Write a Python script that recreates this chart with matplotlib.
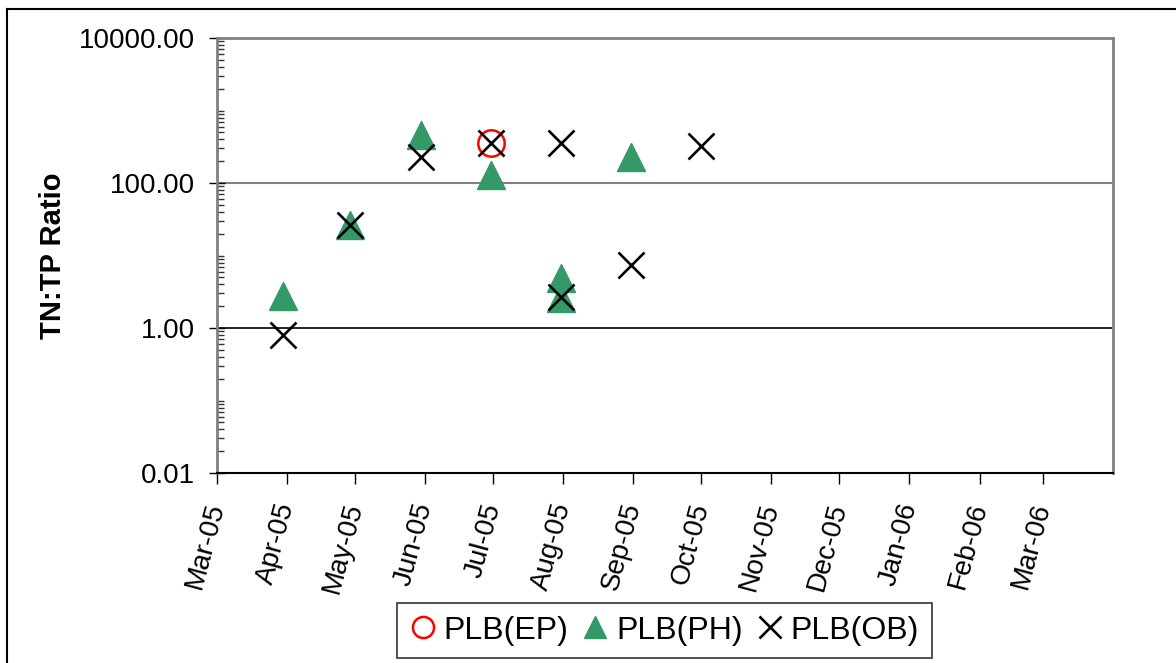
import datetime as dt
import matplotlib
matplotlib.use("Agg")
import matplotlib.pyplot as plt
import matplotlib.dates as mdates
from matplotlib.ticker import LogLocator, FixedLocator, FixedFormatter, NullFormatter
from matplotlib.lines import Line2D

plt.rcParams['font.family'] = ['Liberation Sans', 'DejaVu Sans']

# sample dates and TN:TP ratios
ep_dates = [dt.date(2005, 6, 30)]
ep_ratio = [354]

ph_dates = [dt.date(2005, 3, 30), dt.date(2005, 4, 29), dt.date(2005, 5, 30),
            dt.date(2005, 6, 30), dt.date(2005, 7, 31), dt.date(2005, 7, 31),
            dt.date(2005, 8, 31)]
ph_ratio = [2.74, 26.2, 454, 127, 4.9, 2.57, 230]

ob_dates = [dt.date(2005, 3, 30), dt.date(2005, 4, 29), dt.date(2005, 5, 30),
            dt.date(2005, 6, 30), dt.date(2005, 7, 31), dt.date(2005, 7, 31),
            dt.date(2005, 8, 31), dt.date(2005, 10, 1)]
ob_ratio = [0.79, 26.5, 229, 351, 351, 2.69, 7.39, 319]

month_ticks = [dt.date(2005, m, 1) for m in range(3, 13)] + [dt.date(2006, m, 1) for m in range(1, 4)]
y_ticks = [0.01, 1, 100, 10000]
y_labels = ['0.01', '1.00', '100.00', '10000.00']

fig = plt.figure(figsize=(11.76, 6.63), dpi=100)
ax = fig.add_axes([217 / 1176, 1 - 473 / 663, (1113 - 217) / 1176, (473 - 38) / 663])

# gridlines (Excel style: one grey, one black)
ax.axhline(100, color='#808080', lw=1.5, zorder=1)
ax.axhline(1, color='black', lw=1.2, zorder=1)

ax.plot(ep_dates, ep_ratio, ls='none', marker='o', ms=19, mfc='none',
        mec='#ff0000', mew=1.8, label='PLB(EP)', zorder=3)
ax.plot(ph_dates, ph_ratio, ls='none', marker='^', ms=20, color='#339966',
        mec='#339966', label='PLB(PH)', zorder=2)
ax.plot(ob_dates, ob_ratio, ls='none', marker='x', ms=19, color='black',
        mew=1.9, label='PLB(OB)', zorder=4)

ax.set_yscale('log')
ax.set_ylim(0.01, 10000)
ax.yaxis.set_major_locator(FixedLocator(y_ticks))
ax.yaxis.set_major_formatter(FixedFormatter(y_labels))
ax.yaxis.set_minor_locator(LogLocator(base=10, subs=range(1, 10), numticks=50))
ax.yaxis.set_minor_formatter(NullFormatter())
ax.tick_params(axis='y', which='major', direction='inout', length=12, width=1,
               labelsize=20, pad=10)
ax.tick_params(axis='y', which='minor', direction='in', length=5, width=1,
               color='#333333')

ax.set_xlim(dt.date(2005, 3, 1), dt.date(2006, 4, 1))
ax.set_xticks(month_ticks)
ax.xaxis.set_major_formatter(mdates.DateFormatter('%b-%y'))
ax.tick_params(axis='x', direction='out', length=8, width=1, labelsize=20, pad=14)
for lab in ax.get_xticklabels():
    lab.set_rotation(75)
    lab.set_rotation_mode('anchor')
    lab.set_ha('right')
    lab.set_va('center')

for side in ['top', 'right', 'left']:
    ax.spines[side].set_color('#808080')
    ax.spines[side].set_linewidth(2)
ax.spines['bottom'].set_color('black')
ax.spines['bottom'].set_linewidth(1.5)

ax.set_ylabel('TN:TP Ratio', fontsize=21, fontweight='bold')
ax.yaxis.set_label_coords((67 - 217) / 896, 0.5)

leg = fig.legend(loc='center', bbox_to_anchor=(664.5 / 1176, 1 - 630.5 / 663),
                 ncol=3, fontsize=23, frameon=True, fancybox=False,
                 edgecolor='black', markerscale=0.8, handlelength=0.8,
                 handletextpad=0.25, columnspacing=0.45, borderpad=0.4,
                 borderaxespad=0)
leg.get_frame().set_linewidth(1.2)

# outer frame of the chart area (only top and left are visible)
fig.add_artist(Line2D([7 / 1176, 7 / 1176], [0, 1 - 9 / 663], color='black', lw=1.5))
fig.add_artist(Line2D([7 / 1176, 1], [1 - 9 / 663, 1 - 9 / 663], color='black', lw=1.5))

fig.savefig('out.png', dpi=100)
